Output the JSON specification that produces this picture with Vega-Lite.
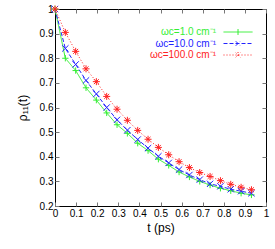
{
  "$schema": "https://vega.github.io/schema/vega-lite/v6.json",
  "width": 211,
  "height": 197,
  "autosize": "none",
  "padding": {"left": 55, "top": 9, "right": 9, "bottom": 43},
  "config": {
    "view": {"stroke": "black", "strokeWidth": 1},
    "font": "Liberation Sans",
    "axis": {
      "domain": false,
      "grid": false,
      "tickSize": -4,
      "tickColor": "#777777",
      "tickWidth": 1,
      "labelFontSize": 10,
      "labelColor": "black",
      "labelFlush": false,
      "labelOverlap": false,
      "titleFontSize": 12,
      "titleFontWeight": "normal",
      "titleColor": "black"
    }
  },
  "datasets": {
    "curves": [
      {"t": 0, "rho": 1.0, "series": "ωc=1.0 cm⁻¹"},
      {"t": 0.049, "rho": 0.80, "series": "ωc=1.0 cm⁻¹"},
      {"t": 0.098, "rho": 0.75, "series": "ωc=1.0 cm⁻¹"},
      {"t": 0.147, "rho": 0.68, "series": "ωc=1.0 cm⁻¹"},
      {"t": 0.196, "rho": 0.63, "series": "ωc=1.0 cm⁻¹"},
      {"t": 0.245, "rho": 0.578, "series": "ωc=1.0 cm⁻¹"},
      {"t": 0.294, "rho": 0.53, "series": "ωc=1.0 cm⁻¹"},
      {"t": 0.343, "rho": 0.495, "series": "ωc=1.0 cm⁻¹"},
      {"t": 0.392, "rho": 0.455, "series": "ωc=1.0 cm⁻¹"},
      {"t": 0.441, "rho": 0.425, "series": "ωc=1.0 cm⁻¹"},
      {"t": 0.49, "rho": 0.39, "series": "ωc=1.0 cm⁻¹"},
      {"t": 0.539, "rho": 0.365, "series": "ωc=1.0 cm⁻¹"},
      {"t": 0.588, "rho": 0.338, "series": "ωc=1.0 cm⁻¹"},
      {"t": 0.637, "rho": 0.318, "series": "ωc=1.0 cm⁻¹"},
      {"t": 0.686, "rho": 0.30, "series": "ωc=1.0 cm⁻¹"},
      {"t": 0.735, "rho": 0.285, "series": "ωc=1.0 cm⁻¹"},
      {"t": 0.784, "rho": 0.272, "series": "ωc=1.0 cm⁻¹"},
      {"t": 0.833, "rho": 0.262, "series": "ωc=1.0 cm⁻¹"},
      {"t": 0.882, "rho": 0.252, "series": "ωc=1.0 cm⁻¹"},
      {"t": 0.931, "rho": 0.245, "series": "ωc=1.0 cm⁻¹"},
      {"t": 0, "rho": 1.0, "series": "ωc=10.0 cm⁻¹"},
      {"t": 0.049, "rho": 0.84, "series": "ωc=10.0 cm⁻¹"},
      {"t": 0.098, "rho": 0.775, "series": "ωc=10.0 cm⁻¹"},
      {"t": 0.147, "rho": 0.71, "series": "ωc=10.0 cm⁻¹"},
      {"t": 0.196, "rho": 0.655, "series": "ωc=10.0 cm⁻¹"},
      {"t": 0.245, "rho": 0.60, "series": "ωc=10.0 cm⁻¹"},
      {"t": 0.294, "rho": 0.55, "series": "ωc=10.0 cm⁻¹"},
      {"t": 0.343, "rho": 0.508, "series": "ωc=10.0 cm⁻¹"},
      {"t": 0.392, "rho": 0.47, "series": "ωc=10.0 cm⁻¹"},
      {"t": 0.441, "rho": 0.435, "series": "ωc=10.0 cm⁻¹"},
      {"t": 0.49, "rho": 0.402, "series": "ωc=10.0 cm⁻¹"},
      {"t": 0.539, "rho": 0.375, "series": "ωc=10.0 cm⁻¹"},
      {"t": 0.588, "rho": 0.348, "series": "ωc=10.0 cm⁻¹"},
      {"t": 0.637, "rho": 0.326, "series": "ωc=10.0 cm⁻¹"},
      {"t": 0.686, "rho": 0.307, "series": "ωc=10.0 cm⁻¹"},
      {"t": 0.735, "rho": 0.29, "series": "ωc=10.0 cm⁻¹"},
      {"t": 0.784, "rho": 0.28, "series": "ωc=10.0 cm⁻¹"},
      {"t": 0.833, "rho": 0.268, "series": "ωc=10.0 cm⁻¹"},
      {"t": 0.882, "rho": 0.26, "series": "ωc=10.0 cm⁻¹"},
      {"t": 0.931, "rho": 0.252, "series": "ωc=10.0 cm⁻¹"},
      {"t": 0, "rho": 1.0, "series": "ωc=100.0 cm⁻¹"},
      {"t": 0.049, "rho": 0.905, "series": "ωc=100.0 cm⁻¹"},
      {"t": 0.098, "rho": 0.828, "series": "ωc=100.0 cm⁻¹"},
      {"t": 0.147, "rho": 0.757, "series": "ωc=100.0 cm⁻¹"},
      {"t": 0.196, "rho": 0.705, "series": "ωc=100.0 cm⁻¹"},
      {"t": 0.245, "rho": 0.645, "series": "ωc=100.0 cm⁻¹"},
      {"t": 0.294, "rho": 0.593, "series": "ωc=100.0 cm⁻¹"},
      {"t": 0.343, "rho": 0.548, "series": "ωc=100.0 cm⁻¹"},
      {"t": 0.392, "rho": 0.507, "series": "ωc=100.0 cm⁻¹"},
      {"t": 0.441, "rho": 0.471, "series": "ωc=100.0 cm⁻¹"},
      {"t": 0.49, "rho": 0.438, "series": "ωc=100.0 cm⁻¹"},
      {"t": 0.539, "rho": 0.408, "series": "ωc=100.0 cm⁻¹"},
      {"t": 0.588, "rho": 0.38, "series": "ωc=100.0 cm⁻¹"},
      {"t": 0.637, "rho": 0.356, "series": "ωc=100.0 cm⁻¹"},
      {"t": 0.686, "rho": 0.336, "series": "ωc=100.0 cm⁻¹"},
      {"t": 0.735, "rho": 0.32, "series": "ωc=100.0 cm⁻¹"},
      {"t": 0.784, "rho": 0.303, "series": "ωc=100.0 cm⁻¹"},
      {"t": 0.833, "rho": 0.288, "series": "ωc=100.0 cm⁻¹"},
      {"t": 0.882, "rho": 0.276, "series": "ωc=100.0 cm⁻¹"},
      {"t": 0.931, "rho": 0.266, "series": "ωc=100.0 cm⁻¹"}
    ]
  },
  "data": {"name": "curves"},
  "layer": [
    {
      "mark": {"type": "line", "strokeWidth": 1},
      "encoding": {
        "x": {
          "field": "t", "type": "quantitative",
          "scale": {"domain": [0, 1], "nice": false, "zero": false},
          "axis": {"orient": "bottom", "values": [0, 0.1, 0.2, 0.3, 0.4, 0.5, 0.6, 0.7, 0.8, 0.9, 1], "format": ".1~f", "title": "t (ps)", "labelPadding": 6, "titlePadding": 4}
        },
        "y": {
          "field": "rho", "type": "quantitative",
          "scale": {"domain": [0.2, 1], "nice": false, "zero": false},
          "axis": {"orient": "left", "values": [0.2, 0.3, 0.4, 0.5, 0.6, 0.7, 0.8, 0.9, 1], "format": ".1~f", "title": "ρ₁₁(t)", "labelPadding": 6, "titlePadding": 10}
        },
        "color": {
          "field": "series", "type": "nominal",
          "scale": {"domain": ["ωc=1.0 cm⁻¹", "ωc=10.0 cm⁻¹", "ωc=100.0 cm⁻¹"], "range": ["#33ee33", "#2222ff", "#ff2222"]},
          "legend": {
            "title": " ",
            "titleFontSize": 6,
            "titlePadding": 1,
            "orient": "top-right",
            "offset": 11,
            "padding": 0,
            "rowPadding": 1.5,
            "labelFontSize": 10,
            "labelAlign": "right",
            "labelOffset": -16,
            "symbolSize": 49,
            "symbolStrokeWidth": 1,
            "encode": {
              "symbols": {
                "update": {
                  "shape": {"signal": "datum.index===0?'M-1,0H7.3M3.15,-0.85V0.85':datum.index===1?'M-1,0H7.3M2.5,-0.65L3.8,0.65M2.5,0.65L3.8,-0.65':'M-1,0H7.3M3.15,-0.85V0.85M2.5,-0.65L3.8,0.65M2.5,0.65L3.8,-0.65'"},
                  "strokeDash": {"signal": "datum.index===0?[1,0]:datum.index===1?[4,2]:[1,2]"},
                  "size": {"value": 49},
                  "strokeWidth": {"value": 1},
                  "fill": {"value": "transparent"}
                }
              },
              "labels": {
                "update": {"fill": {"scale": "color", "field": "value"}}
              }
            }
          }
        },
        "strokeDash": {
          "field": "series", "type": "nominal",
          "scale": {"domain": ["ωc=1.0 cm⁻¹", "ωc=10.0 cm⁻¹", "ωc=100.0 cm⁻¹"], "range": [[1, 0], [4, 2], [1, 2]]},
          "legend": null
        }
      }
    },
    {
      "transform": [{"filter": "datum.series === 'ωc=1.0 cm⁻¹'"}],
      "mark": {"type": "point", "shape": "M-1,0H1M0,-1V1", "strokeWidth": 1, "opacity": 1, "filled": false, "size": 40},
      "encoding": {
        "x": {
          "field": "t", "type": "quantitative",
          "scale": {"domain": [0, 1], "nice": false, "zero": false},
          "axis": {"orient": "top", "values": [0, 0.1, 0.2, 0.3, 0.4, 0.5, 0.6, 0.7, 0.8, 0.9, 1], "labels": false, "title": null}
        },
        "y": {
          "field": "rho", "type": "quantitative",
          "scale": {"domain": [0.2, 1], "nice": false, "zero": false},
          "axis": {"orient": "right", "values": [0.2, 0.3, 0.4, 0.5, 0.6, 0.7, 0.8, 0.9, 1], "labels": false, "title": null}
        },
        "color": {"field": "series", "type": "nominal", "legend": null}
      }
    },
    {
      "transform": [{"filter": "datum.series === 'ωc=10.0 cm⁻¹'"}],
      "mark": {"type": "point", "shape": "M-1,-1L1,1M-1,1L1,-1", "strokeWidth": 1, "opacity": 1, "filled": false, "size": 40},
      "encoding": {
        "x": {"field": "t", "type": "quantitative", "axis": null},
        "y": {"field": "rho", "type": "quantitative", "axis": null},
        "color": {"field": "series", "type": "nominal", "legend": null}
      }
    },
    {
      "transform": [{"filter": "datum.series === 'ωc=100.0 cm⁻¹'"}],
      "mark": {"type": "point", "shape": "M-1,0H1M0,-1V1M-0.7,-0.7L0.7,0.7M-0.7,0.7L0.7,-0.7", "strokeWidth": 1, "opacity": 1, "filled": false, "size": 49},
      "encoding": {
        "x": {"field": "t", "type": "quantitative", "axis": null},
        "y": {"field": "rho", "type": "quantitative", "axis": null},
        "color": {"field": "series", "type": "nominal", "legend": null}
      }
    }
  ],
  "resolve": {"axis": {"x": "independent", "y": "independent"}}
}
